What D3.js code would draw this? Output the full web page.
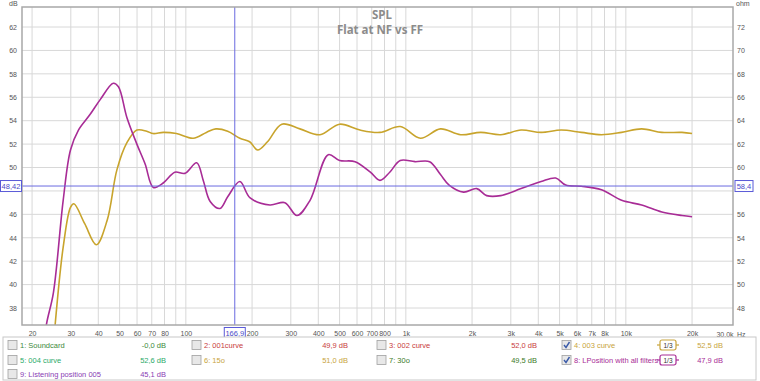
<!DOCTYPE html>
<html>
<head>
<meta charset="utf-8">
<script src="https://cdn.jsdelivr.net/npm/d3@7"></script>
<style>
  body { margin: 0; background: #fff; }
  text { font-family: "Liberation Sans", Arial, sans-serif; }
</style>
</head>
<body>
<div class="canvas"></div>
<script>
// data
const yellowFreq = [25, 25.5, 27.7, 29.9, 31, 34.7, 39.2, 43.9, 48.6, 53.9, 59.9, 66.4, 71, 79, 90.6, 108, 124, 137, 155, 176, 195, 212, 235, 273, 330, 407, 500, 619, 763, 943, 1165, 1437, 1774, 2190, 2700, 3340, 4120, 5085, 6280, 7750, 9570, 11800, 14580, 18000, 20000];
const yellowDb = [34.5, 36.7, 43.2, 46.6, 46.9, 45.2, 43.4, 45.5, 49.8, 52.1, 53.2, 53.1, 52.9, 53.0, 52.9, 52.5, 53.0, 53.3, 53.1, 52.5, 52.2, 51.5, 52.2, 53.7, 53.3, 52.8, 53.7, 53.2, 53.0, 53.5, 52.5, 53.3, 52.8, 53.0, 52.8, 53.2, 53.0, 53.2, 53.0, 52.8, 53.0, 53.3, 53.0, 53.0, 52.9];

const purpleFreq = [22.5, 23.3, 25, 27.7, 29.9, 32.5, 36.6, 40.8, 46.8, 49.4, 53.9, 59.9, 65.3, 71.2, 79.2, 89.1, 99, 112, 120, 129, 143, 155, 176, 196, 241, 282, 320, 367, 444, 500, 588, 690, 763, 845, 943, 1101, 1283, 1437, 1573, 1830, 2100, 2330, 2700, 3340, 4120, 4800, 5330, 6280, 7750, 9570, 11800, 14580, 18000, 20000];
const purpleDb = [34.5, 36.7, 39.3, 47.2, 51.5, 53.2, 54.5, 55.8, 57.2, 56.9, 54.3, 52.0, 50.3, 48.3, 48.7, 49.6, 49.5, 50.4, 48.9, 47.1, 46.5, 47.5, 48.8, 47.4, 46.8, 47.0, 45.9, 47.2, 51.1, 50.6, 50.5, 49.6, 48.9, 49.6, 50.6, 50.5, 50.5, 49.4, 48.5, 47.9, 48.2, 47.6, 47.6, 48.2, 48.8, 49.1, 48.5, 48.4, 48.1, 47.2, 46.8, 46.2, 45.9, 45.8];

const dbTicks = [38, 40, 42, 44, 46, 48, 50, 52, 54, 56, 58, 60, 62];
const freqTicks = [20, 30, 40, 50, 60, 70, 80, 100, 200, 300, 400, 500, 600, 700, 800, 1000, 2000, 3000, 4000, 5000, 6000, 7000, 8000, 10000, 20000];
const freqTickLabels = ['20', '30', '40', '50', '60', '70', '80', '100', '200', '300', '400', '500', '600', '700', '800', '1k', '2k', '3k', '4k', '5k', '6k', '7k', '8k', '10k', '20k'];
const gridFreqs = [20, 30, 40, 50, 60, 70, 80, 90, 100, 200, 300, 400, 500, 600, 700, 800, 900, 1000, 2000, 3000, 4000, 5000, 6000, 7000, 8000, 9000, 10000, 20000];

const legendLabels = ['1: Soundcard', '2: 001curve', '3: 002 curve', '4: 003 curve', '5: 004 curve', '6: 15o', '7: 30o', '8: LPosition with all filters', '9: Listening position 005'];
const legendValues = ['-0,0 dB', '49,9 dB', '52,0 dB', '52,5 dB', '52,6 dB', '51,0 dB', '49,5 dB', '47,9 dB', '45,1 dB'];
const legendColors = ['#3c8a3c', '#c83c3c', '#c83c3c', '#c8a43c', '#2caa6a', '#c8a43c', '#3c7a28', '#a82c96', '#8a3cb4'];
const legendChecked = [false, false, false, true, false, false, false, true, false];

const cursorFreq = 166.9;
const cursorDb = 48.42;

const width = 760, height = 381;
const svg = d3.select('.canvas')
  .append('svg')
  .attr('width', width)
  .attr('height', height);

// plot area
const plotLeft = 22, plotRight = 733, plotTop = 7, plotBottom = 325;

const x = d3.scaleLog().domain([18, 30700]).range([plotLeft, plotRight]);
const y = d3.scaleLinear().domain([36.55, 63.71]).range([plotBottom, plotTop]);
const yOhm = d3.scaleLinear().domain([46.55, 73.71]).range([plotBottom, plotTop]);

// grid
svg.append('g').selectAll('line').data(gridFreqs).join('line')
  .attr('x1', d => x(d)).attr('x2', d => x(d))
  .attr('y1', plotTop).attr('y2', plotBottom)
  .attr('stroke', '#d8d8d8').attr('stroke-width', 1);

svg.append('g').selectAll('line').data(dbTicks).join('line')
  .attr('x1', plotLeft).attr('x2', plotRight)
  .attr('y1', d => y(d)).attr('y2', d => y(d))
  .attr('stroke', '#d8d8d8').attr('stroke-width', 1);

// curves
svg.append('clipPath').attr('id', 'clip')
  .append('rect')
  .attr('x', plotLeft).attr('y', plotTop)
  .attr('width', plotRight - plotLeft).attr('height', plotBottom - plotTop);

const line = d3.line()
  .x(d => x(d[0]))
  .y(d => y(d[1]))
  .curve(d3.curveCatmullRom.alpha(0.5));

const plot = svg.append('g').attr('clip-path', 'url(#clip)');

plot.append('path')
  .datum(yellowFreq.map((f, i) => [f, yellowDb[i]]))
  .attr('d', line)
  .attr('fill', 'none')
  .attr('stroke', '#c8a42c')
  .attr('stroke-width', 1.6);

plot.append('path')
  .datum(purpleFreq.map((f, i) => [f, purpleDb[i]]))
  .attr('d', line)
  .attr('fill', 'none')
  .attr('stroke', '#a82c96')
  .attr('stroke-width', 1.6);

// cursor lines
svg.append('line')
  .attr('x1', x(cursorFreq)).attr('x2', x(cursorFreq))
  .attr('y1', plotTop).attr('y2', plotBottom)
  .attr('stroke', '#6a6ae0').attr('stroke-width', 1);
svg.append('line')
  .attr('x1', plotLeft).attr('x2', plotRight)
  .attr('y1', y(cursorDb)).attr('y2', y(cursorDb))
  .attr('stroke', '#6a6ae0').attr('stroke-width', 1);

// frame
svg.append('rect')
  .attr('x', plotLeft).attr('y', plotTop)
  .attr('width', plotRight - plotLeft).attr('height', plotBottom - plotTop)
  .attr('fill', 'none')
  .attr('stroke', '#a8a8a8').attr('stroke-width', 1.5);

// axes (tick labels under the cursor boxes are hidden, as in the original)
const axisColor = '#555';
const xAxis = svg.append('g').attr('transform', `translate(0, ${plotBottom})`)
  .call(d3.axisBottom(x).tickValues(freqTicks).tickFormat((d, i) => freqTickLabels[i]).tickSize(0).tickPadding(6));
xAxis.select('.domain').remove();
xAxis.selectAll('text').attr('fill', axisColor).attr('font-size', 7);

const yAxis = svg.append('g').attr('transform', `translate(${plotLeft}, 0)`)
  .call(d3.axisLeft(y).tickValues(dbTicks.filter(d => d !== 48)).tickSize(0).tickPadding(5));
yAxis.select('.domain').remove();
yAxis.selectAll('text').attr('fill', axisColor).attr('font-size', 7);

const yAxisR = svg.append('g').attr('transform', `translate(${plotRight}, 0)`)
  .call(d3.axisRight(yOhm).tickValues(dbTicks.filter(d => d !== 48).map(d => d + 10)).tickSize(0).tickPadding(4));
yAxisR.select('.domain').remove();
yAxisR.selectAll('text').attr('fill', axisColor).attr('font-size', 7);

svg.append('text').attr('x', 9).attr('y', 6).text('dB')
  .attr('font-size', 7).attr('fill', axisColor);
svg.append('text').attr('x', 736).attr('y', 6).text('ohm')
  .attr('font-size', 7).attr('fill', axisColor);
svg.append('text').attr('x', 725).attr('y', plotBottom + 11.5).text('30,0k')
  .attr('font-size', 7).attr('fill', axisColor).attr('text-anchor', 'middle');
svg.append('text').attr('x', 737).attr('y', plotBottom + 11.5).text('Hz')
  .attr('font-size', 7).attr('fill', axisColor);

// title
svg.append('text').attr('x', 382).attr('y', 19).text('SPL')
  .attr('text-anchor', 'middle').attr('font-size', 11.5).attr('font-weight', 'bold')
  .attr('fill', '#8c8c8c').style('font-family', '"Noto Sans", sans-serif');
svg.append('text').attr('x', 380).attr('y', 34).text('Flat at NF vs FF')
  .attr('text-anchor', 'middle').attr('font-size', 11.5).attr('font-weight', 'bold')
  .attr('fill', '#8c8c8c').style('font-family', '"Noto Sans", sans-serif');

// cursor labels
const cursorBox = (cx, cy, w, label) => {
  svg.append('rect')
    .attr('x', cx - w / 2).attr('y', cy - 5.5)
    .attr('width', w).attr('height', 11)
    .attr('fill', '#fff').attr('stroke', '#5a5ad8').attr('stroke-width', 1);
  svg.append('text').attr('x', cx).attr('y', cy + 2.5).text(label)
    .attr('text-anchor', 'middle').attr('font-size', 7.5).attr('fill', '#4a4ac8');
};
cursorBox(11, y(cursorDb), 21, '48,42');
cursorBox(744, y(cursorDb), 18, '58,4');
cursorBox(x(cursorFreq), plotBottom + 8, 21, '166,9');

// legend
svg.append('rect')
  .attr('x', 3).attr('y', 337)
  .attr('width', 753).attr('height', 43)
  .attr('fill', '#fff').attr('stroke', '#c8c8c8').attr('stroke-width', 1);

const colBox = [8, 192, 377, 562];
const colValue = [166, 348, 537, 723];
const rowY = [345, 360, 374];

legendLabels.forEach((label, i) => {
  const col = i % 4, row = Math.floor(i / 4);
  const bx = colBox[col], by = rowY[row];
  svg.append('rect')
    .attr('x', bx).attr('y', by - 4.5)
    .attr('width', 9).attr('height', 9)
    .attr('fill', '#e8e8e8').attr('stroke', '#a0a0a0').attr('stroke-width', 0.8);
  if (legendChecked[i]) {
    svg.append('path')
      .attr('d', `M${bx + 2},${by} L${bx + 4},${by + 2.5} L${bx + 7.5},${by - 3}`)
      .attr('fill', 'none').attr('stroke', '#3a5aa8').attr('stroke-width', 1.4);
  }
  svg.append('text').attr('x', bx + 12).attr('y', by + 3).text(label)
    .attr('font-size', 7.5).attr('fill', legendColors[i]);
  svg.append('text').attr('x', colValue[col]).attr('y', by + 3).text(legendValues[i])
    .attr('text-anchor', 'end').attr('font-size', 7.5).attr('fill', legendColors[i]);
  if (legendChecked[i]) {
    const g = svg.append('g').attr('transform', `translate(668, ${by})`);
    g.append('rect').attr('x', -8).attr('y', -5).attr('width', 16).attr('height', 10)
      .attr('rx', 2).attr('fill', 'none').attr('stroke', legendColors[i]).attr('stroke-width', 1.2);
    g.append('line').attr('x1', -11).attr('x2', -8).attr('y1', 0).attr('y2', 0)
      .attr('stroke', legendColors[i]).attr('stroke-width', 1.2);
    g.append('line').attr('x1', 8).attr('x2', 11).attr('y1', 0).attr('y2', 0)
      .attr('stroke', legendColors[i]).attr('stroke-width', 1.2);
    g.append('text').attr('x', 0).attr('y', 2.5).text('1/3')
      .attr('text-anchor', 'middle').attr('font-size', 6.5).attr('fill', '#333');
  }
});
</script>
</body>
</html>
